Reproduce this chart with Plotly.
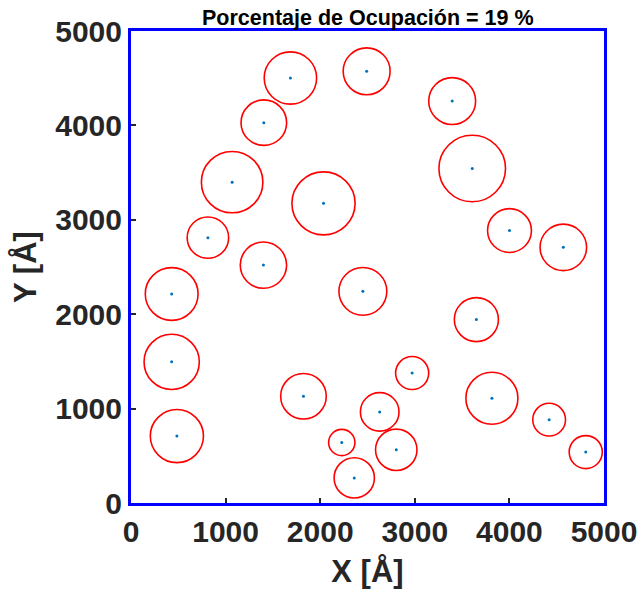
import plotly.graph_objects as go

# Particle centres (Å) and radii (Å)
cx = [1685, 2491, 3395, 1404, 1069, 2035, 3607, 813, 1400, 4001, 4570,
      430, 2451, 3651, 430, 1823, 2972, 2629, 3815, 485, 2228, 2804,
      4420, 4807, 2360]
cy = [4502, 4573, 4258, 4029, 3399, 3174, 3544, 2811, 2520, 2886, 2708,
      2214, 2242, 1943, 1495, 1131, 1377, 965, 1110, 709, 641, 564,
      883, 539, 266]
radius = [277, 248, 248, 241, 325, 334, 352, 219, 245, 232, 246,
          279, 253, 233, 292, 241, 175, 204, 275, 281, 139, 219,
          173, 175, 213]

tick_vals = [0, 1000, 2000, 3000, 4000, 5000]
tick_text = ["0", "1000", "2000", "3000", "4000", "5000"]
title_text = "Porcentaje de Ocupación = 19 %"

FONT = "Liberation Sans, Arial, sans-serif"

fig = go.Figure()

# particle outlines
for x, y, r in zip(cx, cy, radius):
    fig.add_shape(type="circle", xref="x", yref="y",
                  x0=x - r, x1=x + r, y0=y - r, y1=y + r,
                  line=dict(color="#FF0000", width=1.6))

# particle centres
fig.add_trace(go.Scatter(x=cx, y=cy, mode="markers",
                         marker=dict(color="#0072BD", size=3),
                         hoverinfo="skip", showlegend=False))

axis_common = dict(
    range=[0, 5000], tickvals=tick_vals, ticktext=tick_text,
    showgrid=False, zeroline=False, automargin=False,
    showline=True, mirror=True, linecolor="#0000FF", linewidth=3,
    ticks="inside", ticklen=5, tickwidth=2, tickcolor="#262626",
    tickfont=dict(family=FONT, size=30, color="#262626", weight="bold"),
)

fig.update_xaxes(**axis_common,
                 title=dict(text="X [Å]", standoff=14,
                            font=dict(family=FONT, size=31, color="#262626",
                                      weight="bold")))
fig.update_yaxes(**axis_common,
                 title=dict(text="Y [Å]", standoff=10,
                            font=dict(family=FONT, size=31, color="#262626",
                                      weight="bold")))

fig.add_annotation(text=title_text, xref="paper", yref="paper",
                   x=0.5, y=1, xanchor="center", yanchor="bottom",
                   showarrow=False, yshift=-1,
                   font=dict(family=FONT, size=21.5, color="#000000",
                             weight="bold"))

fig.update_layout(
    width=641, height=597,
    margin=dict(l=131, r=37, t=31, b=94, autoexpand=False),
    paper_bgcolor="white", plot_bgcolor="white",
    showlegend=False,
)

fig.write_html("out.html")
